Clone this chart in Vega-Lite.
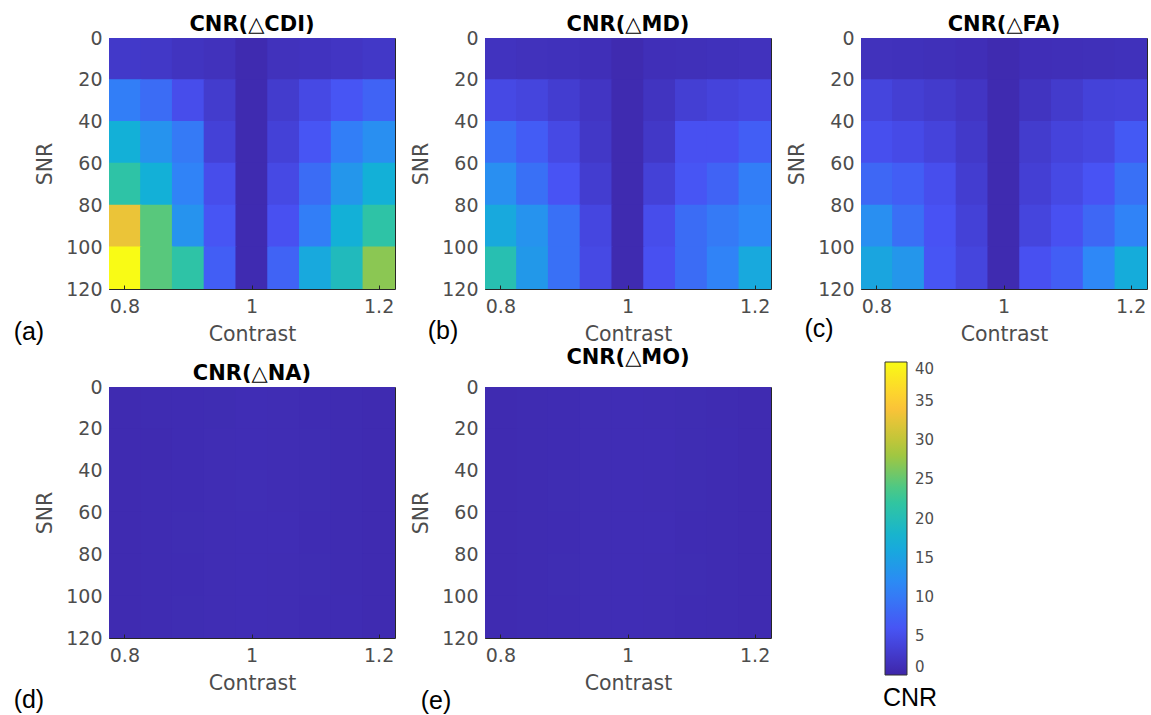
{
"$schema": "https://vega.github.io/schema/vega-lite/v6.json",
"background": "white",
"padding": {"left": 13, "top": 13, "right": 0, "bottom": 0},
"datasets": {"cnr": [
{"m":"CDI","c":0.8,"s":10,"v":2.5},{"m":"CDI","c":0.85,"s":10,"v":2.3},{"m":"CDI","c":0.9,"s":10,"v":1.8},{"m":"CDI","c":0.95,"s":10,"v":1.5},{"m":"CDI","c":1,"s":10,"v":0.6},{"m":"CDI","c":1.05,"s":10,"v":1.5},{"m":"CDI","c":1.1,"s":10,"v":1.7},{"m":"CDI","c":1.15,"s":10,"v":2.0},{"m":"CDI","c":1.2,"s":10,"v":2.3},
{"m":"CDI","c":0.8,"s":30,"v":10.5},{"m":"CDI","c":0.85,"s":30,"v":8.5},{"m":"CDI","c":0.9,"s":30,"v":5},{"m":"CDI","c":0.95,"s":30,"v":2.8},{"m":"CDI","c":1,"s":30,"v":0.6},{"m":"CDI","c":1.05,"s":30,"v":2.8},{"m":"CDI","c":1.1,"s":30,"v":4.5},{"m":"CDI","c":1.15,"s":30,"v":6},{"m":"CDI","c":1.2,"s":30,"v":7.5},
{"m":"CDI","c":0.8,"s":50,"v":17},{"m":"CDI","c":0.85,"s":50,"v":13},{"m":"CDI","c":0.9,"s":50,"v":10},{"m":"CDI","c":0.95,"s":50,"v":3.5},{"m":"CDI","c":1,"s":50,"v":0.6},{"m":"CDI","c":1.05,"s":50,"v":3.5},{"m":"CDI","c":1.1,"s":50,"v":6},{"m":"CDI","c":1.15,"s":50,"v":10.5},{"m":"CDI","c":1.2,"s":50,"v":12.5},
{"m":"CDI","c":0.8,"s":70,"v":21.5},{"m":"CDI","c":0.85,"s":70,"v":17},{"m":"CDI","c":0.9,"s":70,"v":11},{"m":"CDI","c":0.95,"s":70,"v":5},{"m":"CDI","c":1,"s":70,"v":0.6},{"m":"CDI","c":1.05,"s":70,"v":4.5},{"m":"CDI","c":1.1,"s":70,"v":8.5},{"m":"CDI","c":1.15,"s":70,"v":13.5},{"m":"CDI","c":1.2,"s":70,"v":17},
{"m":"CDI","c":0.8,"s":90,"v":33},{"m":"CDI","c":0.85,"s":90,"v":24.5},{"m":"CDI","c":0.9,"s":90,"v":13},{"m":"CDI","c":0.95,"s":90,"v":6},{"m":"CDI","c":1,"s":90,"v":0.7},{"m":"CDI","c":1.05,"s":90,"v":5.5},{"m":"CDI","c":1.1,"s":90,"v":10.5},{"m":"CDI","c":1.15,"s":90,"v":17},{"m":"CDI","c":1.2,"s":90,"v":21.5},
{"m":"CDI","c":0.8,"s":110,"v":40},{"m":"CDI","c":0.85,"s":110,"v":24.5},{"m":"CDI","c":0.9,"s":110,"v":21.5},{"m":"CDI","c":0.95,"s":110,"v":7},{"m":"CDI","c":1,"s":110,"v":0.7},{"m":"CDI","c":1.05,"s":110,"v":7.5},{"m":"CDI","c":1.1,"s":110,"v":16},{"m":"CDI","c":1.15,"s":110,"v":19.5},{"m":"CDI","c":1.2,"s":110,"v":27},
{"m":"MD","c":0.8,"s":10,"v":1.7},{"m":"MD","c":0.85,"s":10,"v":1.5},{"m":"MD","c":0.9,"s":10,"v":1.4},{"m":"MD","c":0.95,"s":10,"v":1.2},{"m":"MD","c":1,"s":10,"v":0.6},{"m":"MD","c":1.05,"s":10,"v":1.2},{"m":"MD","c":1.1,"s":10,"v":1.3},{"m":"MD","c":1.15,"s":10,"v":1.4},{"m":"MD","c":1.2,"s":10,"v":1.6},
{"m":"MD","c":0.8,"s":30,"v":4.5},{"m":"MD","c":0.85,"s":30,"v":4},{"m":"MD","c":0.9,"s":30,"v":3},{"m":"MD","c":0.95,"s":30,"v":2},{"m":"MD","c":1,"s":30,"v":0.6},{"m":"MD","c":1.05,"s":30,"v":1.8},{"m":"MD","c":1.1,"s":30,"v":3.2},{"m":"MD","c":1.15,"s":30,"v":3.8},{"m":"MD","c":1.2,"s":30,"v":4.3},
{"m":"MD","c":0.8,"s":50,"v":9},{"m":"MD","c":0.85,"s":50,"v":6.8},{"m":"MD","c":0.9,"s":50,"v":4.5},{"m":"MD","c":0.95,"s":50,"v":2.3},{"m":"MD","c":1,"s":50,"v":0.6},{"m":"MD","c":1.05,"s":50,"v":2.3},{"m":"MD","c":1.1,"s":50,"v":5.5},{"m":"MD","c":1.15,"s":50,"v":5.5},{"m":"MD","c":1.2,"s":50,"v":7},
{"m":"MD","c":0.8,"s":70,"v":12.5},{"m":"MD","c":0.85,"s":70,"v":9},{"m":"MD","c":0.9,"s":70,"v":5.8},{"m":"MD","c":0.95,"s":70,"v":3},{"m":"MD","c":1,"s":70,"v":0.6},{"m":"MD","c":1.05,"s":70,"v":3.5},{"m":"MD","c":1.1,"s":70,"v":6},{"m":"MD","c":1.15,"s":70,"v":7.5},{"m":"MD","c":1.2,"s":70,"v":10.5},
{"m":"MD","c":0.8,"s":90,"v":16},{"m":"MD","c":0.85,"s":90,"v":13},{"m":"MD","c":0.9,"s":90,"v":9},{"m":"MD","c":0.95,"s":90,"v":4.2},{"m":"MD","c":1,"s":90,"v":0.6},{"m":"MD","c":1.05,"s":90,"v":5},{"m":"MD","c":1.1,"s":90,"v":8.5},{"m":"MD","c":1.15,"s":90,"v":10},{"m":"MD","c":1.2,"s":90,"v":11.5},
{"m":"MD","c":0.8,"s":110,"v":20.5},{"m":"MD","c":0.85,"s":110,"v":13.8},{"m":"MD","c":0.9,"s":110,"v":9},{"m":"MD","c":0.95,"s":110,"v":4.5},{"m":"MD","c":1,"s":110,"v":0.6},{"m":"MD","c":1.05,"s":110,"v":5.5},{"m":"MD","c":1.1,"s":110,"v":8.5},{"m":"MD","c":1.15,"s":110,"v":11},{"m":"MD","c":1.2,"s":110,"v":16},
{"m":"FA","c":0.8,"s":10,"v":1.5},{"m":"FA","c":0.85,"s":10,"v":1.4},{"m":"FA","c":0.9,"s":10,"v":1.3},{"m":"FA","c":0.95,"s":10,"v":1.1},{"m":"FA","c":1,"s":10,"v":0.6},{"m":"FA","c":1.05,"s":10,"v":1.1},{"m":"FA","c":1.1,"s":10,"v":1.2},{"m":"FA","c":1.15,"s":10,"v":1.3},{"m":"FA","c":1.2,"s":10,"v":1.4},
{"m":"FA","c":0.8,"s":30,"v":4},{"m":"FA","c":0.85,"s":30,"v":3.2},{"m":"FA","c":0.9,"s":30,"v":2.7},{"m":"FA","c":0.95,"s":30,"v":2},{"m":"FA","c":1,"s":30,"v":0.6},{"m":"FA","c":1.05,"s":30,"v":1.8},{"m":"FA","c":1.1,"s":30,"v":2.7},{"m":"FA","c":1.15,"s":30,"v":3.7},{"m":"FA","c":1.2,"s":30,"v":3.8},
{"m":"FA","c":0.8,"s":50,"v":5.3},{"m":"FA","c":0.85,"s":50,"v":4.7},{"m":"FA","c":0.9,"s":50,"v":3.8},{"m":"FA","c":0.95,"s":50,"v":2.5},{"m":"FA","c":1,"s":50,"v":0.6},{"m":"FA","c":1.05,"s":50,"v":2.8},{"m":"FA","c":1.1,"s":50,"v":3.8},{"m":"FA","c":1.15,"s":50,"v":4.3},{"m":"FA","c":1.2,"s":50,"v":6.5},
{"m":"FA","c":0.8,"s":70,"v":8},{"m":"FA","c":0.85,"s":70,"v":7},{"m":"FA","c":0.9,"s":70,"v":5.2},{"m":"FA","c":0.95,"s":70,"v":3},{"m":"FA","c":1,"s":70,"v":0.6},{"m":"FA","c":1.05,"s":70,"v":3.3},{"m":"FA","c":1.1,"s":70,"v":4.5},{"m":"FA","c":1.15,"s":70,"v":5.8},{"m":"FA","c":1.2,"s":70,"v":9},
{"m":"FA","c":0.8,"s":90,"v":12.5},{"m":"FA","c":0.85,"s":90,"v":8.8},{"m":"FA","c":0.9,"s":90,"v":5.7},{"m":"FA","c":0.95,"s":90,"v":3.5},{"m":"FA","c":1,"s":90,"v":0.6},{"m":"FA","c":1.05,"s":90,"v":4},{"m":"FA","c":1.1,"s":90,"v":5.5},{"m":"FA","c":1.15,"s":90,"v":8},{"m":"FA","c":1.2,"s":90,"v":11},
{"m":"FA","c":0.8,"s":110,"v":15.5},{"m":"FA","c":0.85,"s":110,"v":13.5},{"m":"FA","c":0.9,"s":110,"v":6},{"m":"FA","c":0.95,"s":110,"v":4},{"m":"FA","c":1,"s":110,"v":0.6},{"m":"FA","c":1.05,"s":110,"v":5.5},{"m":"FA","c":1.1,"s":110,"v":7},{"m":"FA","c":1.15,"s":110,"v":11.5},{"m":"FA","c":1.2,"s":110,"v":16.5},
{"m":"NA","c":0.8,"s":10,"v":0.7},{"m":"NA","c":0.85,"s":10,"v":0.75},{"m":"NA","c":0.9,"s":10,"v":0.8},{"m":"NA","c":0.95,"s":10,"v":0.85},{"m":"NA","c":1,"s":10,"v":0.95},{"m":"NA","c":1.05,"s":10,"v":0.9},{"m":"NA","c":1.1,"s":10,"v":0.8},{"m":"NA","c":1.15,"s":10,"v":0.75},{"m":"NA","c":1.2,"s":10,"v":0.7},
{"m":"NA","c":0.8,"s":30,"v":0.7},{"m":"NA","c":0.85,"s":30,"v":0.7},{"m":"NA","c":0.9,"s":30,"v":0.8},{"m":"NA","c":0.95,"s":30,"v":0.9},{"m":"NA","c":1,"s":30,"v":0.95},{"m":"NA","c":1.05,"s":30,"v":0.9},{"m":"NA","c":1.1,"s":30,"v":0.85},{"m":"NA","c":1.15,"s":30,"v":0.75},{"m":"NA","c":1.2,"s":30,"v":0.7},
{"m":"NA","c":0.8,"s":50,"v":0.7},{"m":"NA","c":0.85,"s":50,"v":0.75},{"m":"NA","c":0.9,"s":50,"v":0.8},{"m":"NA","c":0.95,"s":50,"v":0.9},{"m":"NA","c":1,"s":50,"v":1.0},{"m":"NA","c":1.05,"s":50,"v":0.9},{"m":"NA","c":1.1,"s":50,"v":0.85},{"m":"NA","c":1.15,"s":50,"v":0.75},{"m":"NA","c":1.2,"s":50,"v":0.7},
{"m":"NA","c":0.8,"s":70,"v":0.7},{"m":"NA","c":0.85,"s":70,"v":0.75},{"m":"NA","c":0.9,"s":70,"v":0.85},{"m":"NA","c":0.95,"s":70,"v":0.9},{"m":"NA","c":1,"s":70,"v":0.95},{"m":"NA","c":1.05,"s":70,"v":0.95},{"m":"NA","c":1.1,"s":70,"v":0.8},{"m":"NA","c":1.15,"s":70,"v":0.75},{"m":"NA","c":1.2,"s":70,"v":0.7},
{"m":"NA","c":0.8,"s":90,"v":0.7},{"m":"NA","c":0.85,"s":90,"v":0.75},{"m":"NA","c":0.9,"s":90,"v":0.8},{"m":"NA","c":0.95,"s":90,"v":0.9},{"m":"NA","c":1,"s":90,"v":0.95},{"m":"NA","c":1.05,"s":90,"v":0.9},{"m":"NA","c":1.1,"s":90,"v":0.85},{"m":"NA","c":1.15,"s":90,"v":0.75},{"m":"NA","c":1.2,"s":90,"v":0.7},
{"m":"NA","c":0.8,"s":110,"v":0.7},{"m":"NA","c":0.85,"s":110,"v":0.75},{"m":"NA","c":0.9,"s":110,"v":0.85},{"m":"NA","c":0.95,"s":110,"v":0.9},{"m":"NA","c":1,"s":110,"v":0.95},{"m":"NA","c":1.05,"s":110,"v":0.9},{"m":"NA","c":1.1,"s":110,"v":0.8},{"m":"NA","c":1.15,"s":110,"v":0.8},{"m":"NA","c":1.2,"s":110,"v":0.7},
{"m":"MO","c":0.8,"s":10,"v":0.7},{"m":"MO","c":0.85,"s":10,"v":0.75},{"m":"MO","c":0.9,"s":10,"v":0.8},{"m":"MO","c":0.95,"s":10,"v":0.9},{"m":"MO","c":1,"s":10,"v":0.95},{"m":"MO","c":1.05,"s":10,"v":0.9},{"m":"MO","c":1.1,"s":10,"v":0.85},{"m":"MO","c":1.15,"s":10,"v":0.75},{"m":"MO","c":1.2,"s":10,"v":0.65},
{"m":"MO","c":0.8,"s":30,"v":0.7},{"m":"MO","c":0.85,"s":30,"v":0.75},{"m":"MO","c":0.9,"s":30,"v":0.8},{"m":"MO","c":0.95,"s":30,"v":0.9},{"m":"MO","c":1,"s":30,"v":0.95},{"m":"MO","c":1.05,"s":30,"v":0.95},{"m":"MO","c":1.1,"s":30,"v":0.85},{"m":"MO","c":1.15,"s":30,"v":0.8},{"m":"MO","c":1.2,"s":30,"v":0.65},
{"m":"MO","c":0.8,"s":50,"v":0.7},{"m":"MO","c":0.85,"s":50,"v":0.75},{"m":"MO","c":0.9,"s":50,"v":0.85},{"m":"MO","c":0.95,"s":50,"v":0.9},{"m":"MO","c":1,"s":50,"v":0.95},{"m":"MO","c":1.05,"s":50,"v":0.9},{"m":"MO","c":1.1,"s":50,"v":0.85},{"m":"MO","c":1.15,"s":50,"v":0.75},{"m":"MO","c":1.2,"s":50,"v":0.65},
{"m":"MO","c":0.8,"s":70,"v":0.7},{"m":"MO","c":0.85,"s":70,"v":0.75},{"m":"MO","c":0.9,"s":70,"v":0.8},{"m":"MO","c":0.95,"s":70,"v":0.9},{"m":"MO","c":1,"s":70,"v":0.95},{"m":"MO","c":1.05,"s":70,"v":0.95},{"m":"MO","c":1.1,"s":70,"v":0.8},{"m":"MO","c":1.15,"s":70,"v":0.75},{"m":"MO","c":1.2,"s":70,"v":0.65},
{"m":"MO","c":0.8,"s":90,"v":0.7},{"m":"MO","c":0.85,"s":90,"v":0.75},{"m":"MO","c":0.9,"s":90,"v":0.85},{"m":"MO","c":0.95,"s":90,"v":0.9},{"m":"MO","c":1,"s":90,"v":0.95},{"m":"MO","c":1.05,"s":90,"v":0.9},{"m":"MO","c":1.1,"s":90,"v":0.85},{"m":"MO","c":1.15,"s":90,"v":0.75},{"m":"MO","c":1.2,"s":90,"v":0.65},
{"m":"MO","c":0.8,"s":110,"v":0.7},{"m":"MO","c":0.85,"s":110,"v":0.75},{"m":"MO","c":0.9,"s":110,"v":0.8},{"m":"MO","c":0.95,"s":110,"v":0.9},{"m":"MO","c":1,"s":110,"v":0.95},{"m":"MO","c":1.05,"s":110,"v":0.9},{"m":"MO","c":1.1,"s":110,"v":0.8},{"m":"MO","c":1.15,"s":110,"v":0.75},{"m":"MO","c":1.2,"s":110,"v":0.65}
]},
"columns": 3,
"spacing": {"row": 98, "column": 90},
"bounds": "flush",
"resolve": {"scale": {"color": "independent"}, "legend": {"color": "independent"}},
"concat": [
{"width": 286, "height": 251, "title": "CNR(△CDI)",
 "resolve": {"scale": {"x": "independent", "y": "independent"}},
 "layer": [
  {"data": {"name": "cnr"}, "transform": [{"filter": "datum.m === 'CDI'"}],
   "mark": {"type": "rect", "width": {"band": 1.04}, "height": {"band": 1.03}, "clip": true},
   "encoding": {
    "x": {"field": "c", "type": "ordinal", "scale": {"paddingInner": 0, "paddingOuter": 0}, "axis": {"values": [0.8, 1, 1.2], "title": "Contrast", "labelAngle": 0}},
    "y": {"field": "s", "type": "ordinal", "scale": {"paddingInner": 0, "paddingOuter": 0}, "axis": null},
    "color": {"field": "v", "type": "quantitative", "scale": {"domain": [0, 5.714, 11.429, 17.143, 22.857, 28.571, 34.286, 40], "range": ["#3e26a8", "#4852f4", "#2e87f7", "#12b1d6", "#37c897", "#abc739", "#fec338", "#f9fb15"], "interpolate": "rgb", "clamp": true}, "legend": null}
   }},
  {"data": {"values": [{"label": "(a)"}]}, "mark": {"type": "text", "font": "Liberation Sans", "fontSize": 25, "color": "#000000", "align": "center", "baseline": "middle"},
   "encoding": {"x": {"datum": 0.649, "type": "quantitative", "scale": {"domain": [0.775, 1.225]}, "axis": null}, "y": {"datum": 140.6, "type": "quantitative", "scale": {"domain": [0, 120], "reverse": true}, "axis": {"values": [0, 20, 40, 60, 80, 100, 120], "format": "d", "title": "SNR"}}, "text": {"field": "label"}}}
 ]},
{"width": 286, "height": 251, "title": "CNR(△MD)",
 "resolve": {"scale": {"x": "independent", "y": "independent"}},
 "layer": [
  {"data": {"name": "cnr"}, "transform": [{"filter": "datum.m === 'MD'"}],
   "mark": {"type": "rect", "width": {"band": 1.04}, "height": {"band": 1.03}, "clip": true},
   "encoding": {
    "x": {"field": "c", "type": "ordinal", "scale": {"paddingInner": 0, "paddingOuter": 0}, "axis": {"values": [0.8, 1, 1.2], "title": "Contrast", "labelAngle": 0}},
    "y": {"field": "s", "type": "ordinal", "scale": {"paddingInner": 0, "paddingOuter": 0}, "axis": null},
    "color": {"field": "v", "type": "quantitative", "scale": {"domain": [0, 5.714, 11.429, 17.143, 22.857, 28.571, 34.286, 40], "range": ["#3e26a8", "#4852f4", "#2e87f7", "#12b1d6", "#37c897", "#abc739", "#fec338", "#f9fb15"], "interpolate": "rgb", "clamp": true}, "legend": null}
   }},
  {"data": {"values": [{"label": "(b)"}]}, "mark": {"type": "text", "font": "Liberation Sans", "fontSize": 25, "color": "#000000", "align": "center", "baseline": "middle"},
   "encoding": {"x": {"datum": 0.709, "type": "quantitative", "scale": {"domain": [0.775, 1.225]}, "axis": null}, "y": {"datum": 140.1, "type": "quantitative", "scale": {"domain": [0, 120], "reverse": true}, "axis": {"values": [0, 20, 40, 60, 80, 100, 120], "format": "d", "title": "SNR"}}, "text": {"field": "label"}}}
 ]},
{"width": 286, "height": 251, "title": "CNR(△FA)",
 "resolve": {"scale": {"x": "independent", "y": "independent"}},
 "layer": [
  {"data": {"name": "cnr"}, "transform": [{"filter": "datum.m === 'FA'"}],
   "mark": {"type": "rect", "width": {"band": 1.04}, "height": {"band": 1.03}, "clip": true},
   "encoding": {
    "x": {"field": "c", "type": "ordinal", "scale": {"paddingInner": 0, "paddingOuter": 0}, "axis": {"values": [0.8, 1, 1.2], "title": "Contrast", "labelAngle": 0}},
    "y": {"field": "s", "type": "ordinal", "scale": {"paddingInner": 0, "paddingOuter": 0}, "axis": null},
    "color": {"field": "v", "type": "quantitative", "scale": {"domain": [0, 5.714, 11.429, 17.143, 22.857, 28.571, 34.286, 40], "range": ["#3e26a8", "#4852f4", "#2e87f7", "#12b1d6", "#37c897", "#abc739", "#fec338", "#f9fb15"], "interpolate": "rgb", "clamp": true}, "legend": null}
   }},
  {"data": {"values": [{"label": "(c)"}]}, "mark": {"type": "text", "font": "Liberation Sans", "fontSize": 25, "color": "#000000", "align": "center", "baseline": "middle"},
   "encoding": {"x": {"datum": 0.709, "type": "quantitative", "scale": {"domain": [0.775, 1.225]}, "axis": null}, "y": {"datum": 139.1, "type": "quantitative", "scale": {"domain": [0, 120], "reverse": true}, "axis": {"values": [0, 20, 40, 60, 80, 100, 120], "format": "d", "title": "SNR"}}, "text": {"field": "label"}}}
 ]},
{"width": 286, "height": 251, "title": "CNR(△NA)",
 "resolve": {"scale": {"x": "independent", "y": "independent"}},
 "layer": [
  {"data": {"name": "cnr"}, "transform": [{"filter": "datum.m === 'NA'"}],
   "mark": {"type": "rect", "width": {"band": 1.04}, "height": {"band": 1.03}, "clip": true},
   "encoding": {
    "x": {"field": "c", "type": "ordinal", "scale": {"paddingInner": 0, "paddingOuter": 0}, "axis": {"values": [0.8, 1, 1.2], "title": "Contrast", "labelAngle": 0}},
    "y": {"field": "s", "type": "ordinal", "scale": {"paddingInner": 0, "paddingOuter": 0}, "axis": null},
    "color": {"field": "v", "type": "quantitative", "scale": {"domain": [0, 5.714, 11.429, 17.143, 22.857, 28.571, 34.286, 40], "range": ["#3e26a8", "#4852f4", "#2e87f7", "#12b1d6", "#37c897", "#abc739", "#fec338", "#f9fb15"], "interpolate": "rgb", "clamp": true}, "legend": null}
   }},
  {"data": {"values": [{"label": "(d)"}]}, "mark": {"type": "text", "font": "Liberation Sans", "fontSize": 25, "color": "#000000", "align": "center", "baseline": "middle"},
   "encoding": {"x": {"datum": 0.649, "type": "quantitative", "scale": {"domain": [0.775, 1.225]}, "axis": null}, "y": {"datum": 149.6, "type": "quantitative", "scale": {"domain": [0, 120], "reverse": true}, "axis": {"values": [0, 20, 40, 60, 80, 100, 120], "format": "d", "title": "SNR"}}, "text": {"field": "label"}}}
 ]},
{"width": 286, "height": 251, "title": "CNR(△MO)",
 "resolve": {"scale": {"x": "independent", "y": "independent"}},
 "layer": [
  {"data": {"name": "cnr"}, "transform": [{"filter": "datum.m === 'MO'"}],
   "mark": {"type": "rect", "width": {"band": 1.04}, "height": {"band": 1.03}, "clip": true},
   "encoding": {
    "x": {"field": "c", "type": "ordinal", "scale": {"paddingInner": 0, "paddingOuter": 0}, "axis": {"values": [0.8, 1, 1.2], "title": "Contrast", "labelAngle": 0}},
    "y": {"field": "s", "type": "ordinal", "scale": {"paddingInner": 0, "paddingOuter": 0}, "axis": null},
    "color": {"field": "v", "type": "quantitative", "title": "CNR", "scale": {"domain": [0, 5.714, 11.429, 17.143, 22.857, 28.571, 34.286, 40], "range": ["#3e26a8", "#4852f4", "#2e87f7", "#12b1d6", "#37c897", "#abc739", "#fec338", "#f9fb15"], "interpolate": "rgb", "clamp": true},
     "legend": {"type": "gradient", "orient": "none", "legendX": 398, "legendY": -25, "direction": "vertical", "gradientLength": 313, "gradientThickness": 22, "values": [0, 5, 10, 15, 20, 25, 30, 35, 40], "titleOrient": "bottom", "titleAnchor": "middle", "titleAlign": "center", "titleFont": "Liberation Sans", "titleFontSize": 25, "titleFontWeight": "normal", "titleColor": "#000000", "titlePadding": 10, "labelFont": "DejaVu Sans", "labelFontSize": 15, "labelColor": "#4d4d4d", "labelOffset": 8, "labelBaseline": "middle", "labelOverlap": false, "gradientStrokeColor": "#333333", "gradientStrokeWidth": 1, "padding": 0}}
   }},
  {"data": {"values": [{"label": "(e)"}]}, "mark": {"type": "text", "font": "Liberation Sans", "fontSize": 25, "color": "#000000", "align": "center", "baseline": "middle"},
   "encoding": {"x": {"datum": 0.698, "type": "quantitative", "scale": {"domain": [0.775, 1.225]}, "axis": null}, "y": {"datum": 150.1, "type": "quantitative", "scale": {"domain": [0, 120], "reverse": true}, "axis": {"values": [0, 20, 40, 60, 80, 100, 120], "format": "d", "title": "SNR"}}, "text": {"field": "label"}}}
 ]}
],
"config": {
 "view": {"stroke": "#262626", "strokeWidth": 1},
 "title": {"font": "DejaVu Sans", "fontSize": 21, "fontWeight": "bold", "color": "#000000", "offset": -5.5, "frame": "group"},
 "axis": {"labelFont": "DejaVu Sans", "labelFontSize": 19, "labelColor": "#4d4d4d", "titleFont": "DejaVu Sans", "titleFontSize": 20.5, "titleFontWeight": "normal", "titleColor": "#4d4d4d", "domain": false, "grid": false, "tickColor": "#262626", "tickSize": -4, "labelFlush": false},
 "axisX": {"labelPadding": 12, "titlePadding": 8},
 "axisY": {"labelPadding": 11, "titlePadding": 10}
}
}
